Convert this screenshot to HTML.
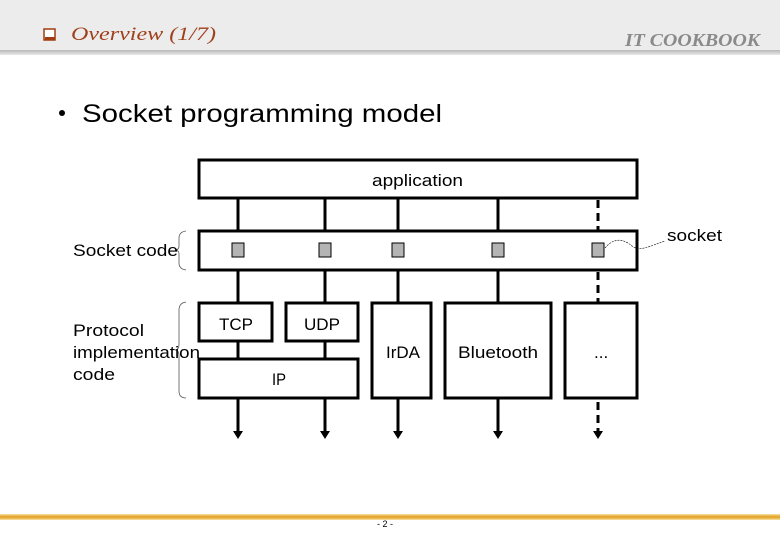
<!DOCTYPE html>
<html><head><style>
body{margin:0;width:780px;height:540px;background:#fff;overflow:hidden;position:relative;font-family:"Liberation Sans",sans-serif}
</style></head><body>
<div style="position:absolute;left:0;top:0;width:780px;height:50px;background:#ececec"></div>
<div style="position:absolute;left:0;top:50px;width:780px;height:5px;background:linear-gradient(#b8b8b8,#e8e8e8)"></div>
<svg width="780" height="540" style="position:absolute;left:0;top:0" font-family="Liberation Sans, sans-serif">
<rect x="44" y="29" width="11" height="11" fill="#fff" stroke="#a03c10" stroke-width="1.5"/>
<rect x="45" y="37" width="10" height="3" fill="#a03c10"/>
<text x="71" y="40" font-family="Liberation Serif, serif" font-style="italic" font-size="19" fill="#a0401a" textLength="145" lengthAdjust="spacingAndGlyphs">Overview (1/7)</text>
<text x="625" y="46" font-family="Liberation Serif, serif" font-style="italic" font-weight="bold" font-size="18" fill="#8a8a8a" textLength="135" lengthAdjust="spacingAndGlyphs">IT COOKBOOK</text>
<circle cx="62" cy="113" r="3" fill="#000"/>
<text x="82" y="122" font-size="25" textLength="360" lengthAdjust="spacingAndGlyphs">Socket programming model</text>
<g stroke="#000" stroke-width="3" fill="#fff">
<rect x="199" y="160" width="438" height="38"/>
<rect x="199" y="231" width="438" height="39"/>
<line x1="238" y1="198" x2="238" y2="231"/><line x1="325" y1="198" x2="325" y2="231"/><line x1="398" y1="198" x2="398" y2="231"/><line x1="498" y1="198" x2="498" y2="231"/>
<line x1="238" y1="270" x2="238" y2="303"/><line x1="325" y1="270" x2="325" y2="303"/><line x1="398" y1="270" x2="398" y2="303"/><line x1="498" y1="270" x2="498" y2="303"/>
<line x1="238" y1="341" x2="238" y2="359"/><line x1="325" y1="341" x2="325" y2="359"/>
<line x1="238" y1="398" x2="238" y2="432"/><line x1="325" y1="398" x2="325" y2="432"/><line x1="398" y1="398" x2="398" y2="432"/><line x1="498" y1="398" x2="498" y2="432"/>
<g stroke-dasharray="8,5"><line x1="598" y1="200" x2="598" y2="231"/><line x1="598" y1="272" x2="598" y2="303"/><line x1="598" y1="402" x2="598" y2="432"/></g>
<rect x="199" y="303" width="73" height="38"/>
<rect x="286" y="303" width="72" height="38"/>
<rect x="199" y="359" width="159" height="39"/>
<rect x="372" y="303" width="59" height="95"/>
<rect x="445" y="303" width="106" height="95"/>
<rect x="565" y="303" width="72" height="95"/>
</g>
<g fill="#000"><path d="M233 431h10l-5 8z"/><path d="M320 431h10l-5 8z"/><path d="M393 431h10l-5 8z"/><path d="M493 431h10l-5 8z"/><path d="M593 431h10l-5 8z"/></g>
<g fill="#b4b4b4" stroke="#000" stroke-width="1">
<rect x="232" y="243" width="12" height="14"/><rect x="319" y="243" width="12" height="14"/><rect x="392" y="243" width="12" height="14"/><rect x="492" y="243" width="12" height="14"/><rect x="592" y="243" width="12" height="14"/>
</g>
<path d="M605 248 C615 236,625 240,632 246 C640 252,650 246,665 241" fill="none" stroke="#000" stroke-width="0.6" stroke-dasharray="2,1"/>
<g fill="none" stroke="#555" stroke-width="0.8">
<path d="M186 231 Q179 232 179 238 V246 Q179 250 175 250 Q179 250 179 254 V263 Q179 269 186 270"/>
<path d="M186 302 Q179 303 179 310 V344 Q179 350 175 350 Q179 350 179 356 V391 Q179 398 186 398"/>
</g>
<g font-size="17" lengthAdjust="spacingAndGlyphs">
<text x="372" y="186" textLength="91" lengthAdjust="spacingAndGlyphs">application</text>
<text x="219" y="330" textLength="34" lengthAdjust="spacingAndGlyphs">TCP</text>
<text x="304" y="330" textLength="36" lengthAdjust="spacingAndGlyphs">UDP</text>
<text x="272" y="385" textLength="14" lengthAdjust="spacingAndGlyphs">IP</text>
<text x="386" y="358" textLength="34" lengthAdjust="spacingAndGlyphs">IrDA</text>
<text x="458" y="358" textLength="80" lengthAdjust="spacingAndGlyphs">Bluetooth</text>
<text x="594" y="358">...</text>
<text x="667" y="241" textLength="55" lengthAdjust="spacingAndGlyphs">socket</text>
<text x="73" y="256" textLength="105" lengthAdjust="spacingAndGlyphs">Socket code</text>
<text x="73" y="336" textLength="71" lengthAdjust="spacingAndGlyphs">Protocol</text>
<text x="73" y="358" textLength="127" lengthAdjust="spacingAndGlyphs">implementation</text>
<text x="73" y="380" textLength="42" lengthAdjust="spacingAndGlyphs">code</text>
</g>
<text x="385" y="527" font-size="9" text-anchor="middle">- 2 -</text>
</svg>
<div style="position:absolute;left:0;top:514px;width:780px;height:6px;background:linear-gradient(#fbe3a8,#e4a830 40%,#e4a830 60%,#fbe3a8)"></div>
</body></html>
